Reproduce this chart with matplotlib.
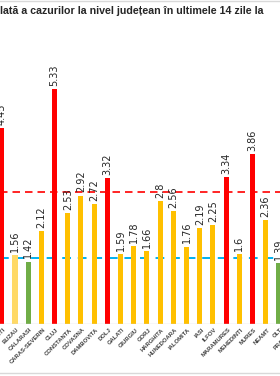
import matplotlib
matplotlib.use('Agg')
import matplotlib.pyplot as plt

judete = ['BUCURESTI', 'BUZAU', 'CALARASI', 'CARAS-SEVERIN', 'CLUJ', 'CONSTANTA',
          'COVASNA', 'DAMBOVITA', 'DOLJ', 'GALATI', 'GIURGIU', 'GORJ', 'HARGHITA',
          'HUNEDOARA', 'IALOMITA', 'IASI', 'ILFOV', 'MARAMURES', 'MEHEDINTI',
          'MURES', 'NEAMT', 'OLT', 'PRAHOVA']
rata = [4.45, 1.56, 1.42, 2.12, 5.33, 2.53, 2.92, 2.72, 3.32, 1.59, 1.78, 1.66,
        2.8, 2.56, 1.76, 2.19, 2.25, 3.34, 1.6, 3.86, 2.36, 1.39]
culori = ['#FF0000', '#FFD966', '#70AD47', '#FFC000', '#FF0000', '#FFC000',
          '#FFC000', '#FFC000', '#FF0000', '#FFC000', '#FFC000', '#FFC000',
          '#FFC000', '#FFC000', '#FFC000', '#FFC000', '#FFC000', '#FF0000',
          '#FFC000', '#FF0000', '#FFC000', '#70AD47']
prag_rosu = 3.0
prag_albastru = 1.5

fig = plt.figure(figsize=(2.8, 3.76), dpi=100)
ax = fig.add_axes([0, 52 / 376, 1, 304 / 376])

x = list(range(len(rata)))
ax.bar(x, rata, width=0.38, color=culori, zorder=2)

ax.axhline(prag_rosu, color='#FF0000', lw=1.2, dashes=(4.5, 3), zorder=1)
ax.axhline(prag_albastru, color='#00B0F0', lw=1.4, dashes=(4.5, 3.5), zorder=1)
ax.axhline(0, color='#D9D9D9', lw=1, zorder=3)

for i, v in enumerate(rata):
    ax.text(i, v + 0.07, str(v), rotation=90, ha='center', va='bottom',
            fontsize=7, color='#262626')

for i, nume in enumerate(judete):
    ax.text(i + 0.12, -0.07, nume, rotation=45, rotation_mode='anchor',
            ha='right', va='top', fontsize=4.2, fontweight='bold',
            color='#404040', family='Liberation Sans', clip_on=False)

ax.set_xlim(-0.136, 21.08)
ax.set_ylim(0, 304 / 44)
ax.axis('off')

fig.text(0.0, 0.971, 'lată a cazurilor la nivel județean în ultimele 14 zile la',
         ha='left', va='center', fontsize=7.7, fontweight='bold',
         color='#262626', family='Liberation Sans')

fig.add_artist(plt.Line2D([0, 1], [0.998, 0.998], color='#D9D9D9', lw=1))
fig.add_artist(plt.Line2D([0, 1], [3.5 / 376, 3.5 / 376], color='#D9D9D9', lw=1))

plt.savefig('out.png')
